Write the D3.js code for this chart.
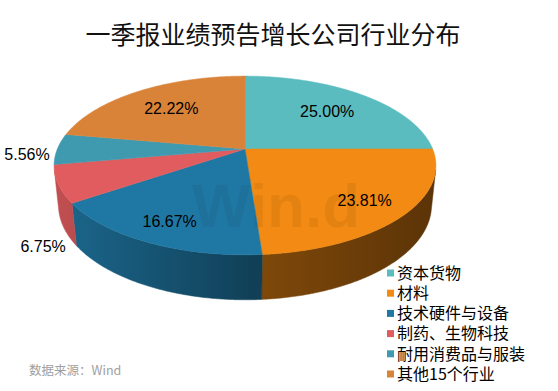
<!DOCTYPE html>
<html>
<head>
<meta charset="utf-8">
<script src="https://cdn.jsdelivr.net/npm/d3@7/dist/d3.min.js"></script>
<style>
  body { margin: 0; background: #fff; }
  svg { display: block; }
</style>
</head>
<body>
<script>
// data
const categories = ["资本货物", "材料", "技术硬件与设备", "制药、生物科技", "耐用消费品与服装", "其他15个行业"];
const shares = [25.00, 23.81, 16.67, 6.75, 5.56, 22.22];
const labels = ["25.00%", "23.81%", "16.67%", "6.75%", "5.56%", "22.22%"];
const colors = ["#5bbcbf", "#f28a13", "#1f78a4", "#e05c5e", "#3f9ab0", "#d98339"];

const W = 558, H = 391;

// simple perspective camera for the 3D pie (units of camera distance)
const cx = 245, cy = 149;          // where the pie centre lands on screen
const tilt = Math.asin(0.46);
const sn = Math.sin(tilt), cs = Math.cos(tilt);
const rad = 0.2076;                 // pie radius
const depth = 0.05;                 // pie thickness
const focal = 904;

function proj(theta, rho, level) {
    const X = rho * rad * Math.sin(theta);
    const Z = -rho * rad * Math.cos(theta);
    const Y = level;
    const d = 1 - (Y * sn + Z * cs);
    return [cx + focal * X / d, cy - focal * (Y * cs - Z * sn) / d];
}

const svg = d3.select("body").append("svg")
    .attr("width", W)
    .attr("height", H);

// title
svg.append("text")
    .attr("x", 273)
    .attr("y", 44)
    .attr("text-anchor", "middle")
    .style("font-family", "'Noto Sans CJK SC', sans-serif")
    .style("font-size", "25px")
    .style("fill", "#111")
    .text("一季报业绩预告增长公司行业分布");

const arcs = d3.pie().sort(null).value(d => d)(shares);

// shading on the side wall, dark towards the right
const defs = svg.append("defs");
const leftX = proj(Math.PI * 1.5, 1, 0)[0], rightX = proj(Math.PI * 0.5, 1, 0)[0];
const shadeStops = [[0, 0.86], [0.55, 0.52], [1, 0.38]];
colors.forEach(function (c, i) {
    const g = defs.append("linearGradient")
        .attr("id", "side" + i)
        .attr("gradientUnits", "userSpaceOnUse")
        .attr("x1", leftX).attr("x2", rightX)
        .attr("y1", 0).attr("y2", 0);
    const rgb = d3.rgb(c);
    shadeStops.forEach(function (s) {
        g.append("stop")
            .attr("offset", s[0])
            .attr("stop-color", d3.rgb(rgb.r * s[1], rgb.g * s[1], rgb.b * s[1]).formatHex());
    });
});

const line = d3.line();
const step = Math.PI / 360;

function samples(a, b) {
    const pts = [];
    for (let t = a; t < b; t += step) pts.push(t);
    pts.push(b);
    return pts;
}

// visible part of the wall (front half, from tangent to tangent)
const visA = Math.acos(-rad / cs), visB = 2 * Math.PI - visA;

const sides = svg.append("g");
arcs.forEach(function (a, i) {
    const s = Math.max(a.startAngle, visA), e = Math.min(a.endAngle, visB);
    if (e <= s) return;
    const ts = samples(s, e);
    const pts = ts.map(t => proj(t, 1, 0))
        .concat(ts.slice().reverse().map(t => proj(t, 1, -depth)));
    sides.append("path")
        .attr("d", line(pts) + "Z")
        .attr("fill", "url(#side" + i + ")")
        .attr("stroke", "url(#side" + i + ")")
        .attr("stroke-width", 0.5);
});

const tops = svg.append("g");
arcs.forEach(function (a, i) {
    const pts = [proj(0, 0, 0)].concat(samples(a.startAngle, a.endAngle).map(t => proj(t, 1, 0)));
    tops.append("path")
        .attr("d", line(pts) + "Z")
        .attr("fill", colors[i])
        .attr("stroke", colors[i])
        .attr("stroke-width", 0.5);
});

// faint watermark
svg.append("text")
    .attr("x", 276)
    .attr("y", 227)
    .attr("text-anchor", "middle")
    .style("font-family", "'Liberation Sans', Arial, sans-serif")
    .style("font-weight", "bold")
    .style("font-size", "62px")
    .style("fill", "#000")
    .style("fill-opacity", 0.055)
    .text("Win.d");

// data labels: big slices inside, small ones outside
const lblFont = "'Liberation Sans', Arial, sans-serif";
arcs.forEach(function (a, i) {
    const mid = (a.startAngle + a.endAngle) / 2;
    let x, y;
    if (shares[i] >= 10) {
        // labels sit a bit further out on the front half
        [x, y] = proj(mid, 0.73 - 0.08 * Math.cos(mid), 0);
    } else {
        x = cx + 218 * Math.sin(mid);
        y = cy + 5 - 245 * Math.cos(mid);
    }
    svg.append("text")
        .attr("x", x)
        .attr("y", y)
        .attr("dy", "0.36em")
        .attr("text-anchor", "middle")
        .style("font-family", lblFont)
        .style("font-size", "16px")
        .style("fill", "#000")
        .text(labels[i]);
});

// legend
const legend = svg.append("g")
    .attr("transform", "translate(387,273)");
const item = legend.selectAll("g")
    .data(categories)
    .join("g")
    .attr("transform", (d, i) => "translate(0," + (i * 20.2) + ")");
item.append("rect")
    .attr("x", 0)
    .attr("y", -3.5)
    .attr("width", 7)
    .attr("height", 7)
    .attr("fill", (d, i) => colors[i]);
item.append("text")
    .attr("x", 10)
    .attr("dy", "0.36em")
    .style("font-family", "'Noto Sans CJK SC', sans-serif")
    .style("font-size", "16px")
    .style("fill", "#000")
    .text(d => d);

// source note
svg.append("text")
    .attr("x", 29)
    .attr("y", 370)
    .attr("dy", "0.36em")
    .style("font-family", "'Noto Sans CJK SC', sans-serif")
    .style("font-size", "12.5px")
    .style("fill", "#a0a0a0")
    .text("数据来源：Wind");
</script>
</body>
</html>
